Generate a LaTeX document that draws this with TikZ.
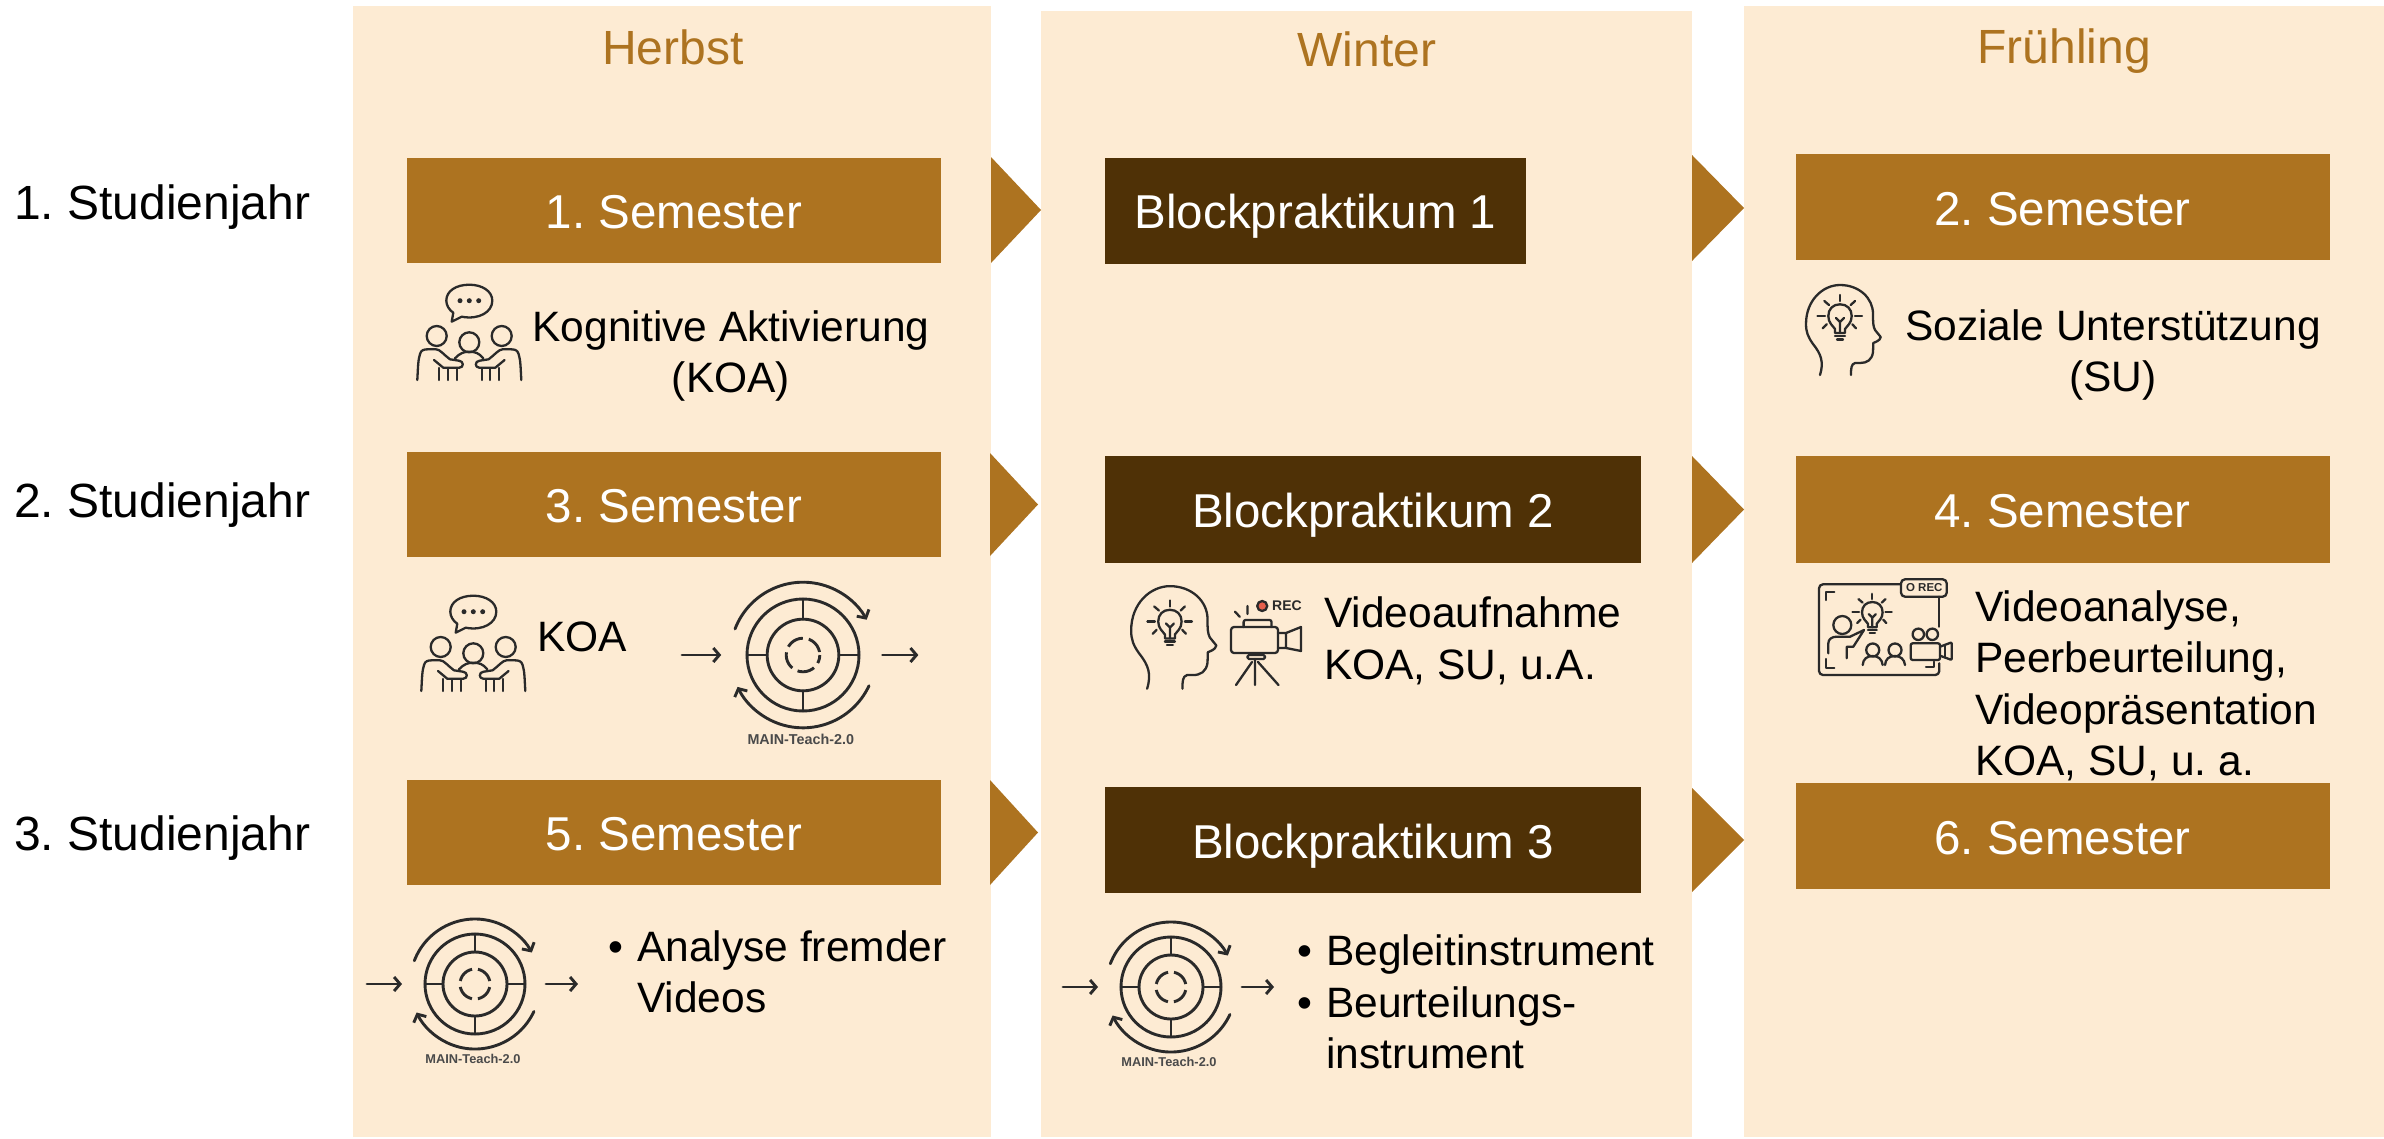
\documentclass[tikz,border=0pt]{standalone}
\usepackage{fontspec}
\setmainfont{Liberation Sans}
\usetikzlibrary{arrows.meta,shapes.geometric}
\frenchspacing

\definecolor{panelcol}{HTML}{FDEBD3}
\definecolor{boxcol}{HTML}{AD7320}
\definecolor{darkcol}{HTML}{4F3106}
\definecolor{iconcol}{HTML}{2A2A2A}
\definecolor{reccol}{HTML}{E5604D}

\tikzset{
  pics/bulb/.style={code={
    \draw[iconline] (-5,17) -- (-5,13) .. controls (-7,10) and (-11.7,7) .. (-11.7,0) .. controls (-11.7,-7) and (-7,-11.7) .. (0,-11.7) .. controls (7,-11.7) and (11.7,-7) .. (11.7,0) .. controls (11.7,7) and (7,10) .. (5,13) -- (5,17) -- cycle;
    \draw[iconline] (0,17) -- (0,6) (-4,2) -- (0,6) -- (4,2);
    \draw[iconline] (-5,20) -- (5,20) (-3,23.5) -- (3,23.5);
    \draw[iconline] (0,-21) -- (0,-15) (-22.5,0) -- (-15,0) (15,0) -- (22,0);
    \draw[iconline] (-15.7,-15) -- (-11,-11) (15,-15) -- (10.7,-11);
    \draw[iconline] (-17.3,12.3) -- (-13.3,8.3) (16,12.3) -- (12.3,8.3);
  }},
  pics/headbulb/.style={code={
    \draw[iconline] (15,91) .. controls (19,78) and (16,70) .. (8,60) .. controls (3,53) and (1,48) .. (1,40) .. controls (1,16) and (18,1) .. (35,1) .. controls (54,1) and (68,14) .. (68,30) .. controls (68,38) and (68,42) .. (70,46) -- (75.7,53) .. controls (75,57) and (70,58) .. (68.3,59) -- (68,68) .. controls (67,76) and (62,79) .. (55,79) -- (50,79) .. controls (46,80) and (46,85) .. (46,91);
    \pic at (35,32) {bulb};
  }},
  pics/people/.style={code={
    \draw[iconline] (53.3,42.7) -- (51.7,51.7) -- (61.7,46.7) .. controls (79,50) and (92.3,42) .. (92.3,30.7) .. controls (92.3,21) and (82,14.7) .. (69.3,14.7) .. controls (56,14.7) and (46.3,21) .. (46.3,30.7) .. controls (46.3,35) and (49,40) .. (53.3,42.7);
    \fill[iconcol] (60,30.7) circle (2.5pt) (69.3,30.7) circle (2.5pt) (78.7,30.7) circle (2.5pt);
    \draw[iconline] (36.7,66) circle (10pt) (69.3,72.3) circle (10pt) (101.7,66) circle (10pt);
    \draw[iconline] (55,88.3) .. controls (60,83) and (64,81.7) .. (69.3,81.7) .. controls (75,81.7) and (79,83) .. (83.3,88.3);
    \draw[iconline] (17.3,110) .. controls (18,98) and (18,90) .. (20,84) .. controls (21,80) and (24,79.3) .. (28,79.3) -- (36,79.3) .. controls (40,79.3) and (44,85) .. (50,89.3) -- (59,90.7) .. controls (64,91) and (64,97.7) .. (59.3,97.7) -- (43.3,97.7) -- (34,90);
    \draw[iconline] (39.3,98) -- (39.3,110) (48.3,98) -- (48.3,110) (56.7,98) -- (56.7,110);
    \begin{scope}[xshift=138.6pt,xscale=-1]
      \draw[iconline] (17.3,110) .. controls (18,98) and (18,90) .. (20,84) .. controls (21,80) and (24,79.3) .. (28,79.3) -- (36,79.3) .. controls (40,79.3) and (44,85) .. (50,89.3) -- (59,90.7) .. controls (64,91) and (64,97.7) .. (59.3,97.7) -- (43.3,97.7) -- (34,90);
      \draw[iconline] (39.3,98) -- (39.3,110) (48.3,98) -- (48.3,110) (56.7,98) -- (56.7,110);
    \end{scope}
  }},
  pics/mainteach/.style={code={
    \coordinate (-a) at (-108pt,0pt);
    \coordinate (-b) at (-73pt,0pt);
    \coordinate (-c) at (71pt,0pt);
    \coordinate (-d) at (103pt,0pt);
    \draw[cycleline,->] (-a) -- (-b);
    \draw[cycleline,->] (-c) -- (-d);
    \draw[cycleline] (0pt,0pt) circle (50pt) (0pt,0pt) circle (32pt);
    \draw[cycleline,line cap=butt,dash pattern=on 17.5pt off 6pt,dash phase=20.5pt] (0pt,0pt) circle (15pt);
    \draw[cycleline] (0:32pt) -- (0:50pt) (90:32pt) -- (90:50pt) (180:32pt) -- (180:50pt) (270:32pt) -- (270:50pt);
    \draw[cycleline,->] (159:65pt) arc[start angle=159,end angle=29,radius=65pt];
    \draw[cycleline,->] (-25:65pt) arc[start angle=-25,end angle=-154,radius=65pt];
    \node[transform shape,font=\fontsize{12.8}{15}\selectfont\bfseries,text=iconcol!85,inner sep=0] (-label) at (-2pt,-75pt) {MAIN-Teach-2.0};
  }},
  pics/camera/.style={code={
    \draw[iconline,fill=reccol] (32.2,6) circle (5pt);
    \node[font=\fontsize{14}{16}\selectfont\bfseries,text=iconcol,inner sep=0,anchor=west] (-rec) at (42,6) {REC};
    \draw[iconline] (17.5,6) -- (17.5,14) (5,11.7) -- (9.7,16.7);
    \draw[iconline,rounded corners=3pt] (1,27) rectangle (48,53);
    \draw[iconline,rounded corners=2pt] (13.6,27) -- (13.6,20) -- (41.5,20) -- (41.5,27);
    \draw[iconline] (48,33) -- (56,33) -- (71,27) -- (71,51) -- (56,48) -- (48,48) (56,33) -- (56,48);
    \draw[iconline,rounded corners=1.5pt] (17.5,55) rectangle (35,59);
    \draw[iconline] (25,59) -- (25,85) (22,62) -- (6,85) (28,62) -- (48.5,85);
  }},
  pics/teaching/.style={code={
    \draw[iconline,rounded corners=4pt] (101,19.3) -- (19,19.3) -- (19,110) -- (139.3,110) -- (139.3,98.3);
    \draw[iconline] (139.3,31.7) -- (139.3,61.7);
    \draw[iconline,rounded corners=4pt] (101,14.3) rectangle (146.7,31.7);
    \node[font=\fontsize{11.5}{13}\selectfont\bfseries,text=iconcol,inner sep=0] (-rec) at (124.3,23) {O REC};
    \draw[iconline] (26,35) -- (26,26.7) -- (34.3,26.7) (26,94) -- (26,102.7) -- (34.3,102.7) (126,102) -- (134,102) -- (134,96.7);
    \pic[scale=0.88] at (72.3,47.3) {bulb};
    \draw[iconline] (42.3,60) circle (9pt);
    \draw[iconline] (28.3,88.3) -- (28.3,78.3) .. controls (28.3,74) and (32,71.7) .. (36.7,71.7) -- (50,71.7) -- (64,65) -- (53.3,81.7) -- (46.7,81.7) -- (46.7,93.3);
    \draw[iconline] (72.7,85) circle (6.5pt) (95,85) circle (6.5pt);
    \draw[iconline] (62.7,100) .. controls (63,94) and (67,91) .. (72.7,91) .. controls (78,91) and (82,94) .. (82.7,100);
    \draw[iconline] (85,100) .. controls (85.5,94) and (89,91) .. (95,91) .. controls (100,91) and (104.5,94) .. (105,100);
    \draw[iconline] (118.3,69.3) circle (5.7pt) (132.3,69.3) circle (5.7pt);
    \draw[iconline,rounded corners=2pt] (110.7,78.3) rectangle (140,95);
    \draw[iconline,rounded corners=1pt] (140,81.7) -- (151.7,77.3) -- (151.7,95) -- (140,90.7);
    \draw[iconline] (145,80) -- (145,92.5);
  }},
}

\begin{document}
\begin{tikzpicture}[x=1pt,y=-1pt,>={Straight Barb[length=6pt,width=14pt]},
  panel/.style={fill=panelcol,anchor=north west,inner sep=0},
  season/.style={text=boxcol,font=\fontsize{48}{56}\selectfont},
  sembox/.style={fill=boxcol,text=white,font=\fontsize{47.5}{56}\selectfont,minimum width=534pt,minimum height=105pt,inner sep=0,text height=36pt,text depth=0pt},
  blockbox/.style={sembox,fill=darkcol,minimum width=536pt},
  chevron/.style={isosceles triangle,isosceles triangle stretches,fill=boxcol,inner sep=0,outer sep=0,anchor=lower side},
  yearlabel/.style={anchor=west,inner sep=0,font=\fontsize{48}{56}\selectfont},
  note/.style={inner sep=0,font=\fontsize{42.5}{51.5}\selectfont},
  iconline/.style={draw=iconcol,line width=2.3pt,line cap=round,line join=round},
  cycleline/.style={iconline,line width=2.9pt}]
  \useasboundingbox (0,0) rectangle (2384,1138);

  \node[panel,minimum width=638pt,minimum height=1131pt] (herbst)  at (353,6)   {};
  \node[panel,minimum width=651pt,minimum height=1126pt] (winter)  at (1041,11) {};
  \node[panel,minimum width=640pt,minimum height=1131pt] (fruehl)  at (1744,6)  {};
  \node[season] (herbsttxt) at (673,47)  {Herbst};
  \node[season] (wintertxt) at (1367,49) {Winter};
  \node[season] (fruehltxt) at (2064,51) {Frühling};

  \node[yearlabel] (year1) at (14,207) {1. Studienjahr};
  \node[yearlabel] (year2) at (14,505) {2. Studienjahr};
  \node[yearlabel] (year3) at (14,838) {3. Studienjahr};

  \node[sembox] (sem1) at (674,210) {1. Semester};
  \node[sembox] (sem3) [below of=sem1,node distance=294.5pt] {3. Semester};
  \node[sembox] (sem5) [below of=sem3,node distance=328pt] {5. Semester};
  \node[blockbox,minimum width=421pt,minimum height=106pt] (block1) at (1315.5,210.5) {Blockpraktikum 1};
  \node[blockbox,minimum height=107pt] (block2) at (1373,509.5) {Blockpraktikum 2};
  \node[blockbox,minimum height=106pt] (block3) [below of=block2,node distance=330.5pt] {Blockpraktikum 3};
  \node[sembox,minimum height=106pt] (sem2) at (2062.5,207) {2. Semester};
  \node[sembox,minimum height=107pt] (sem4) at (2062.5,509.5) {4. Semester};
  \node[sembox,minimum height=106pt] (sem6) [below of=sem4,node distance=326.5pt] {6. Semester};

  \node[chevron,minimum width=106pt,minimum height=50pt] (next1) at (991,210) {};
  \node[chevron,minimum width=103pt,minimum height=48pt] (next2) at (990,504.5) {};
  \node[chevron,minimum width=105pt,minimum height=48pt] (next3) at (990,832.5) {};
  \node[chevron,minimum width=106pt,minimum height=52pt] (next4) at (1692,208) {};
  \node[chevron,minimum width=107pt,minimum height=52pt] (next5) at (1692,509.5) {};
  \node[chevron,minimum width=104pt,minimum height=52pt] (next6) at (1692,840) {};

  \pic (koa1) at (400,270) {people};
  \node[note,align=center] (koa1txt) at (731,356) {Kognitive Aktivierung\\(KOA)};
  \pic (su1) at (1805,284) {headbulb};
  \node[note,align=center] (su1txt) at (2113,355) {Soziale Unterstützung\\(SU)};

  \pic (koa2) at (404,581) {people};
  \node[note,anchor=west] (koa2txt) at (537,637) {KOA};
  \pic[scale=1.12] (main1) at (803,655) {mainteach};

  \pic[scale=1.14] (su2) at (1130,585) {headbulb};
  \pic (cam1) at (1230,600) {camera};
  \node[note,align=left,anchor=west] (cam1txt) at (1324,641) {Videoaufnahme\\KOA, SU, u.A.};

  \pic (video1) at (1800,565) {teaching};
  \node[note,align=left,anchor=west] (video1txt) at (1975,686) {Videoanalyse,\\Peerbeurteilung,\\Videopräsentation\\KOA, SU, u. a.};

  \pic (main2) at (475,984) {mainteach};
  \node[note,align=left,anchor=west] (ana1txt) at (637,972) {\llap{•\hspace{14pt}}Analyse fremder\\Videos};

  \pic (main3) at (1171,987) {mainteach};
  \node[note,align=left,anchor=west] (instr1txt) at (1326,1002) {\llap{•\hspace{14pt}}Begleitinstrument\\\llap{•\hspace{14pt}}Beurteilungs-\\instrument};
\end{tikzpicture}
\end{document}
